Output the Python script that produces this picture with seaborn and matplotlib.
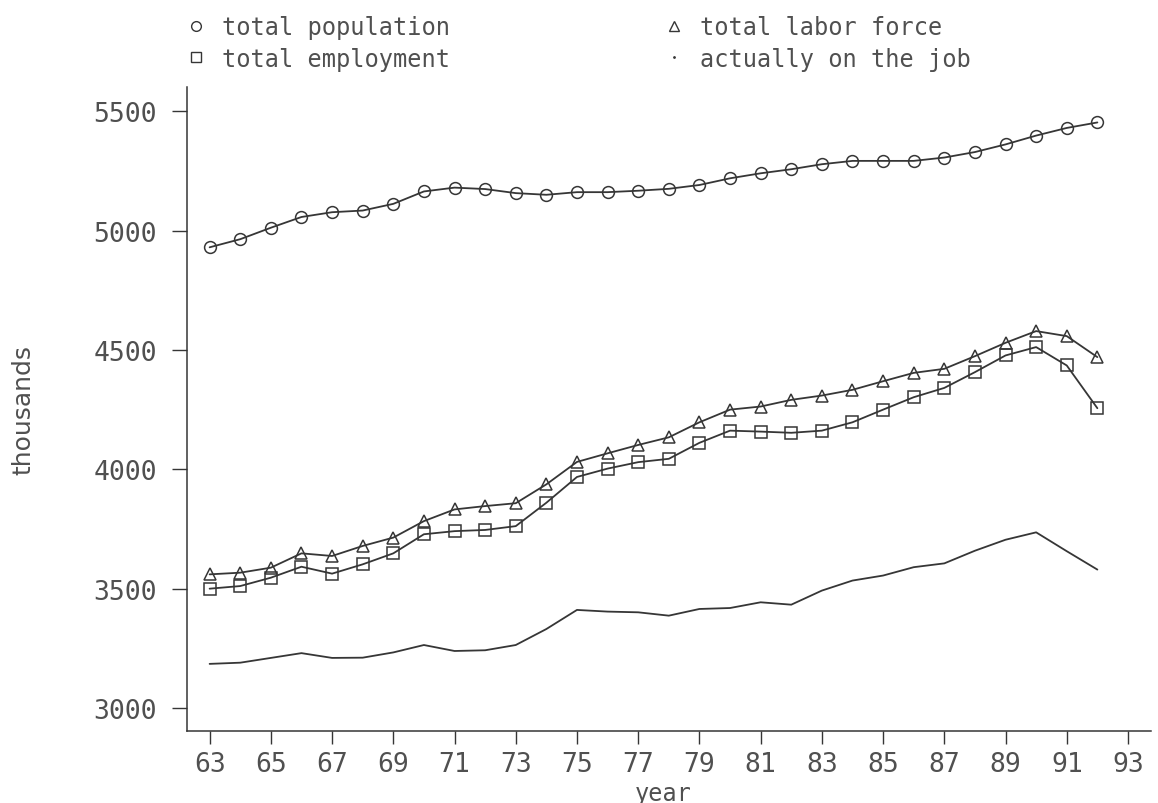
import matplotlib
matplotlib.use("Agg")
import matplotlib.pyplot as plt
from matplotlib.lines import Line2D
import seaborn as sns
import pandas as pd

years = list(range(63, 93))

total_population = [4930, 4964, 5012, 5057, 5077, 5084, 5112, 5164, 5180, 5174,
                    5157, 5150, 5161, 5161, 5167, 5175, 5191, 5219, 5240, 5257,
                    5278, 5292, 5292, 5292, 5306, 5329, 5361, 5398, 5430, 5453]
total_labor_force = [3560, 3567, 3588, 3648, 3637, 3679, 3714, 3783, 3832, 3846,
                     3858, 3937, 4031, 4067, 4102, 4134, 4197, 4250, 4263, 4291,
                     4309, 4333, 4369, 4404, 4421, 4474, 4530, 4579, 4558, 4470]
total_employment = [3500, 3511, 3546, 3592, 3563, 3602, 3648, 3728, 3741, 3746,
                    3762, 3860, 3968, 4003, 4030, 4044, 4111, 4162, 4158, 4153,
                    4162, 4197, 4250, 4302, 4341, 4407, 4477, 4512, 4435, 4256]
on_the_job = [3185, 3190, 3210, 3230, 3210, 3211, 3233, 3264, 3239, 3242,
              3264, 3331, 3411, 3404, 3401, 3387, 3415, 3419, 3443, 3433,
              3492, 3534, 3555, 3590, 3606, 3659, 3705, 3736, 3657, 3580]

x_ticks = list(range(63, 94, 2))
y_ticks = [3000, 3500, 4000, 4500, 5000, 5500]

df = pd.DataFrame({
    "year": years,
    "total population": total_population,
    "total labor force": total_labor_force,
    "total employment": total_employment,
    "actually on the job": on_the_job,
})

sns.set_style("white")
plt.rcParams["font.family"] = ["DejaVu Sans Mono", "DejaVu Sans"]

ink = "#363636"
txt = "#505050"

fig = plt.figure(figsize=(11.58, 8.04), dpi=100)
ax = fig.add_axes([0.1612, 0.0899, 0.8327, 0.8002])

marker_kw = dict(color=ink, linewidth=1.3, markersize=8.5, markerfacecolor="none",
                 markeredgecolor=ink, markeredgewidth=1.1)
sns.lineplot(data=df, x="year", y="total population", marker="o", ax=ax, **marker_kw)
sns.lineplot(data=df, x="year", y="total labor force", marker="^", ax=ax, **marker_kw)
sns.lineplot(data=df, x="year", y="total employment", marker="s", ax=ax, **marker_kw)
sns.lineplot(data=df, x="year", y="actually on the job", ax=ax, color=ink, linewidth=1.3)

ax.set_xlim(62.25, 93.75)
ax.set_ylim(2905, 5600)
ax.set_xticks(x_ticks)
ax.set_xticklabels([str(t) for t in x_ticks])
ax.set_yticks(y_ticks)

for side in ["top", "right"]:
    ax.spines[side].set_visible(False)
for side in ["left", "bottom"]:
    ax.spines[side].set_color(ink)
    ax.spines[side].set_linewidth(1.1)

ax.tick_params(axis="y", direction="out", length=10.5, width=1.0, color=ink,
               pad=11, labelsize=19, labelcolor=txt, left=True)
ax.tick_params(axis="x", direction="out", length=9.5, width=1.0, color=ink,
               pad=5, labelsize=19, labelcolor=txt, bottom=True)

ax.set_xlabel("year", fontsize=17, color=txt)
ax.set_ylabel("thousands", fontsize=18, color=txt, family="DejaVu Sans")
ax.xaxis.set_label_coords(0.494, -0.0785)
ax.yaxis.set_label_coords(-0.1565, 0.5)

handles = [
    Line2D([], [], linestyle="none", marker="o", markersize=7, markerfacecolor="none",
           markeredgecolor=ink, markeredgewidth=1.0, label="total population"),
    Line2D([], [], linestyle="none", marker="s", markersize=6.5, markerfacecolor="none",
           markeredgecolor=ink, markeredgewidth=1.0, label="total employment"),
    Line2D([], [], linestyle="none", marker="^", markersize=7, markerfacecolor="none",
           markeredgecolor=ink, markeredgewidth=1.0, label="total labor force"),
    Line2D([], [], linestyle="none", marker=".", markersize=2, color=ink,
           label="actually on the job"),
]
fig.legend(handles=handles, loc="upper left", bbox_to_anchor=(0.1591, 0.9795),
           ncol=2, frameon=False, fontsize=17, labelcolor=txt,
           handlelength=1.0, handletextpad=0.585, columnspacing=9.02,
           labelspacing=0.3, borderpad=0, borderaxespad=0)

fig.savefig("out.png", dpi=100)
